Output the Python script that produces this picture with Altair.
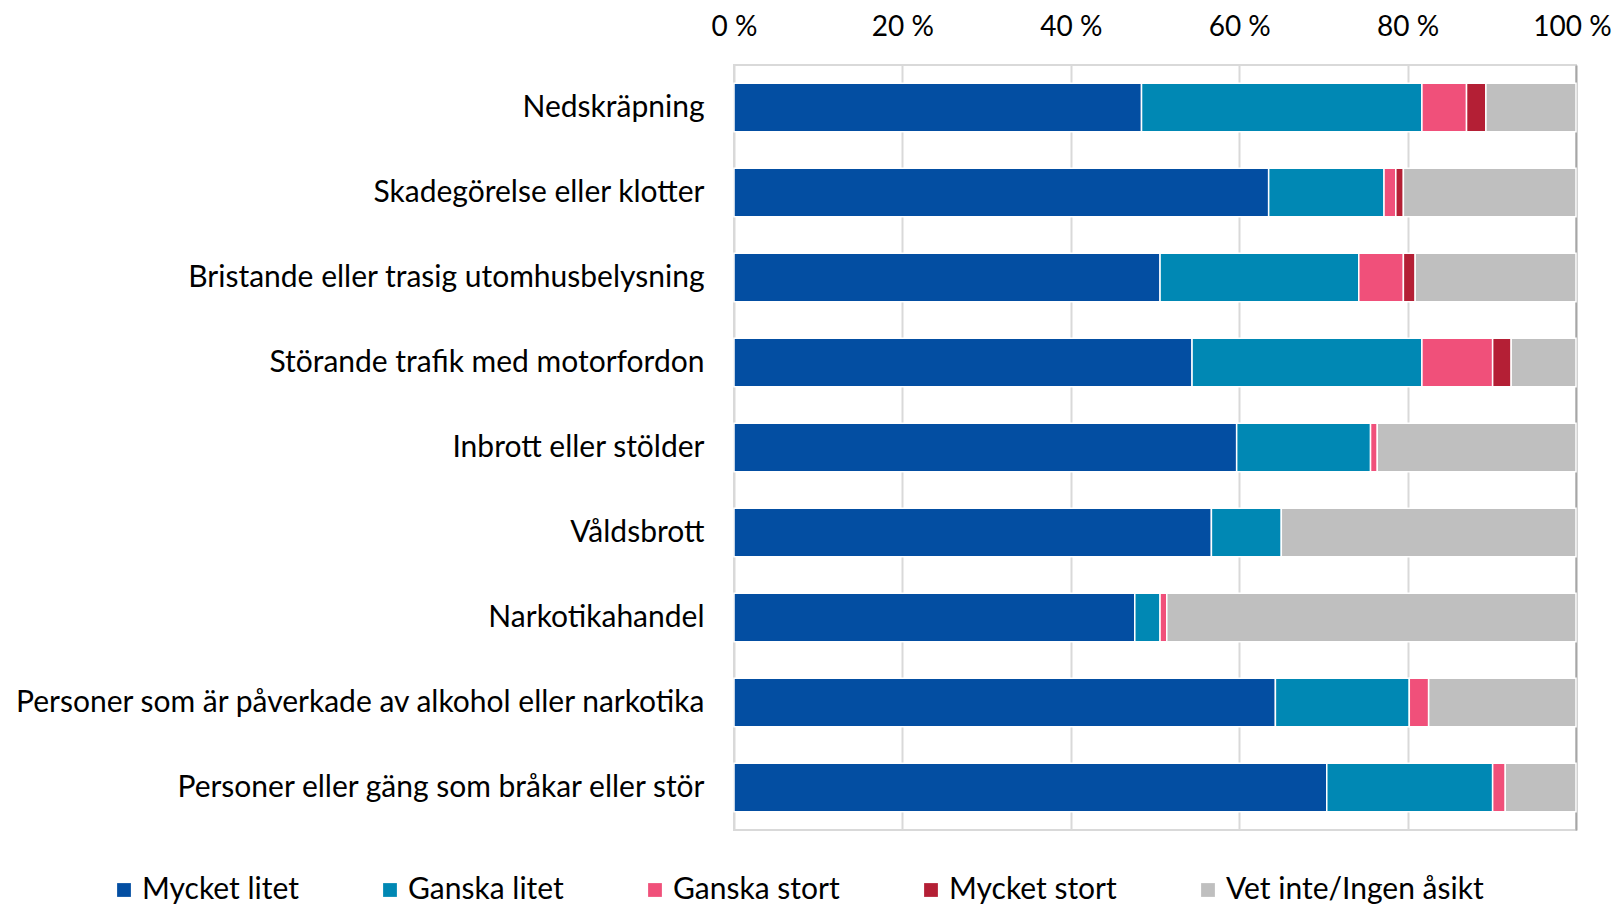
import altair as alt
import pandas as pd

categories = [
    "Nedskräpning",
    "Skadegörelse eller klotter",
    "Bristande eller trasig utomhusbelysning",
    "Störande trafik med motorfordon",
    "Inbrott eller stölder",
    "Våldsbrott",
    "Narkotikahandel",
    "Personer som är påverkade av alkohol eller narkotika",
    "Personer eller gäng som bråkar eller stör",
]
series = ["Mycket litet", "Ganska litet", "Ganska stort", "Mycket stort", "Vet inte/Ingen åsikt"]
colors = ["#034EA2", "#0088B4", "#F0507A", "#B41F35", "#BFBFBF"]

mycket_litet = [48.4, 63.5, 50.6, 54.4, 59.7, 56.7, 47.6, 64.3, 70.4]
ganska_litet = [33.3, 13.7, 23.6, 27.3, 15.9, 8.3, 3.0, 15.9, 19.7]
ganska_stort = [5.3, 1.4, 5.3, 8.4, 0.8, 0.0, 0.8, 2.3, 1.5]
mycket_stort = [2.3, 0.9, 1.4, 2.2, 0.0, 0.0, 0.0, 0.0, 0.0]
vet_inte = [10.7, 20.5, 19.1, 7.7, 23.6, 35.0, 48.6, 17.5, 8.4]

tick_values = [0, 20, 40, 60, 80, 100]

values = [mycket_litet, ganska_litet, ganska_stort, mycket_stort, vet_inte]
rows = []
for si, (s, vals) in enumerate(zip(series, values)):
    for c, v in zip(categories, vals):
        if v > 0:
            rows.append({"kategori": c, "svar": s, "ordning": si, "andel": v})
df = pd.DataFrame(rows)

FONT = "Lato"

chart = (
    alt.Chart(df)
    .mark_bar(stroke="white", strokeWidth=1.5)
    .encode(
        y=alt.Y(
            "kategori:N",
            sort=categories,
            scale=alt.Scale(paddingInner=0.43, paddingOuter=0.215),
            axis=alt.Axis(
                title=None,
                ticks=False,
                domain=False,
                labelFontSize=30,
                labelFont=FONT,
                labelColor="#000000",
                labelPadding=30,
                labelLimit=1000,
            ),
        ),
        x=alt.X(
            "andel:Q",
            stack="zero",
            scale=alt.Scale(domain=[0, 100], nice=False),
            axis=alt.Axis(
                orient="top",
                title=None,
                values=tick_values,
                labelExpr="datum.value + ' %'",
                labelFlush=False,
                labelBound=False,
                labelOverlap=False,
                labelOffset={
                    "condition": {"test": "datum.value === 100", "value": -4},
                    "value": 0,
                },
                ticks=False,
                domain=False,
                grid=True,
                gridColor={
                    "condition": {"test": "datum.value === 100", "value": "#a6a6a6"},
                    "value": "#d9d9d9",
                },
                gridWidth=2,
                labelFontSize=28,
                labelFont=FONT,
                labelColor="#000000",
                labelBaseline="alphabetic",
                labelPadding=30,
            ),
        ),
        color=alt.Color(
            "svar:N",
            scale=alt.Scale(domain=series, range=colors),
            legend=alt.Legend(
                title=None,
                orient="none",
                direction="horizontal",
                columns=5,
                legendX=-625,
                legendY=810,
                symbolType="square",
                symbolSize=190,
                symbolStrokeWidth=0,
                labelFontSize=30,
                labelFont=FONT,
                labelColor="#000000",
                labelOffset=3,
                labelLimit=500,
                columnPadding=76,
                padding=0,
            ),
        ),
        order=alt.Order("ordning:Q"),
    )
    .properties(
        width=842,
        height=765,
        autosize=alt.AutoSizeParams(type="none"),
        padding={"left": 726, "top": 57, "right": 37, "bottom": 74},
    )
    .configure_view(stroke="#d9d9d9", strokeWidth=2)
)

chart.save("out.html", embed_options={"renderer": "svg", "actions": False})
